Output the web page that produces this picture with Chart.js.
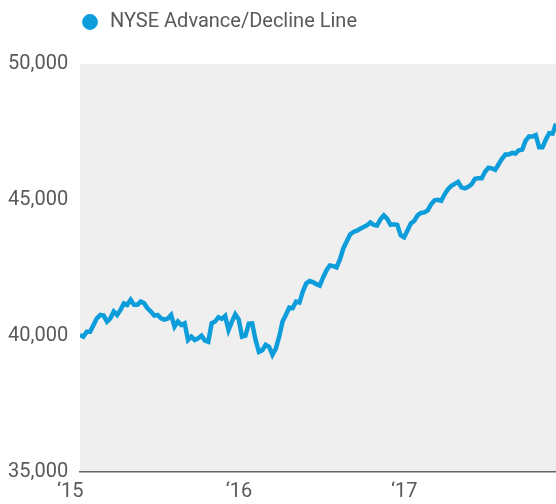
<!DOCTYPE html>
<html>
<head>
<meta charset="utf-8">
<script src="https://cdn.jsdelivr.net/npm/chart.js@4"></script>
<style>
  html, body { margin: 0; padding: 0; background: #fff; }
  #wrap { width: 556px; height: 504px; }
</style>
</head>
<body>
<div id="wrap"><canvas id="adChart"></canvas></div>
<script>
const seriesName = "NYSE Advance/Decline Line";

// weekly readings, Jan 2015 -> Sep 2017
const adLine = [
  40040, 39975, 40160, 40160, 40407, 40650, 40775, 40750, 40530, 40650,
  40900, 40775, 40960, 41200, 41145, 41330, 41145, 41145, 41265, 41200,
  41020, 40900, 40750, 40775, 40650, 40600, 40640, 40775, 40345, 40530,
  40407, 40465, 39855, 39975, 39855, 39915, 40010, 39830, 39790, 40465,
  40530, 40690, 40630, 40740, 40220, 40530, 40800, 40615, 39975, 40010,
  40455, 40465, 39855, 39420, 39480, 39680, 39605, 39310, 39535, 39975,
  40530, 40785, 41045, 41025, 41265, 41230, 41635, 41930, 42020, 41985,
  41905, 41855, 42150, 42410, 42590, 42570, 42520, 42815, 43220, 43475,
  43735, 43825, 43870, 43940, 44010, 44065, 44175, 44085, 44060, 44290,
  44435, 44305, 44085, 44105, 44085, 43700, 43625, 43880, 44140, 44230,
  44435, 44525, 44545, 44620, 44840, 44990, 45005, 44970, 45210, 45395,
  45520, 45595, 45670, 45465, 45430, 45485, 45580, 45780, 45800, 45800,
  46040, 46185, 46165, 46110, 46315, 46515, 46670, 46670, 46730, 46710,
  46830, 46855, 47180, 47335, 47335, 47385, 46940, 46940, 47225, 47455,
  47440, 47800
];

// week index where each year label sits
const yearWeeks = [1, 51, 100];
const yearLabels = ["\u201815", "\u201816", "\u201817"];

const yTicks = [35000, 40000, 45000, 50000];

const fontFamily = "Roboto, 'DejaVu Sans Condensed', sans-serif";
const textColor = "#58595b";
const lineColor = "#0d9ddb";

// grey plot background
const plotBg = {
  id: "plotBg",
  beforeDraw(chart) {
    const { ctx, chartArea: a } = chart;
    ctx.save();
    ctx.fillStyle = "#efefef";
    ctx.fillRect(a.left, a.top, a.right - a.left, a.bottom - a.top);
    ctx.restore();
  }
};

// push legend to line up with plot
const legendShift = {
  id: "legendShift",
  afterLayout(chart) {
    chart.legend.left += 62;
  }
};

new Chart(document.getElementById("adChart"), {
  type: "line",
  data: {
    datasets: [{
      label: seriesName,
      data: adLine.map((v, i) => ({ x: i, y: v })),
      borderColor: lineColor,
      backgroundColor: lineColor,
      borderWidth: 4.5,
      pointRadius: 0,
      tension: 0
    }]
  },
  options: {
    responsive: true,
    maintainAspectRatio: false,
    animation: false,
    layout: { padding: { left: 8, right: 0, top: 2, bottom: 0 } },
    plugins: {
      tooltip: { enabled: false },
      legend: {
        position: "top",
        align: "start",
        labels: {
          usePointStyle: true,
          pointStyle: "circle",
          boxWidth: 20,
          boxHeight: 8,
          padding: 10,
          color: textColor,
          font: { family: fontFamily, size: 20 }
        }
      }
    },
    scales: {
      x: {
        type: "linear",
        min: 0,
        max: adLine.length - 1,
        afterBuildTicks: s => { s.ticks = yearWeeks.map(w => ({ value: w })); },
        afterFit: s => { s.height = 32; },
        grid: { display: false, drawTicks: false },
        border: { display: true, color: "#666", width: 1.5 },
        ticks: {
          align: "end",
          padding: 8,
          maxRotation: 0,
          color: textColor,
          font: { family: fontFamily, size: 20 },
          callback: (v) => yearLabels[yearWeeks.indexOf(v)]
        }
      },
      top: {
        type: "linear",
        position: "top",
        display: true,
        afterFit: s => { s.height = 22; },
        grid: { display: false, drawTicks: false },
        border: { display: false },
        ticks: { display: false }
      },
      y: {
        min: 35000,
        max: 50000,
        afterBuildTicks: s => { s.ticks = yTicks.map(v => ({ value: v })); },
        afterFit: s => { s.width = 72; },
        grid: { display: false, drawTicks: false },
        border: { display: false },
        ticks: {
          crossAlign: "far",
          color: textColor,
          font: { family: fontFamily, size: 20 },
          callback: v => v.toLocaleString("en-US")
        }
      }
    }
  },
  plugins: [plotBg, legendShift]
});
</script>
</body>
</html>
